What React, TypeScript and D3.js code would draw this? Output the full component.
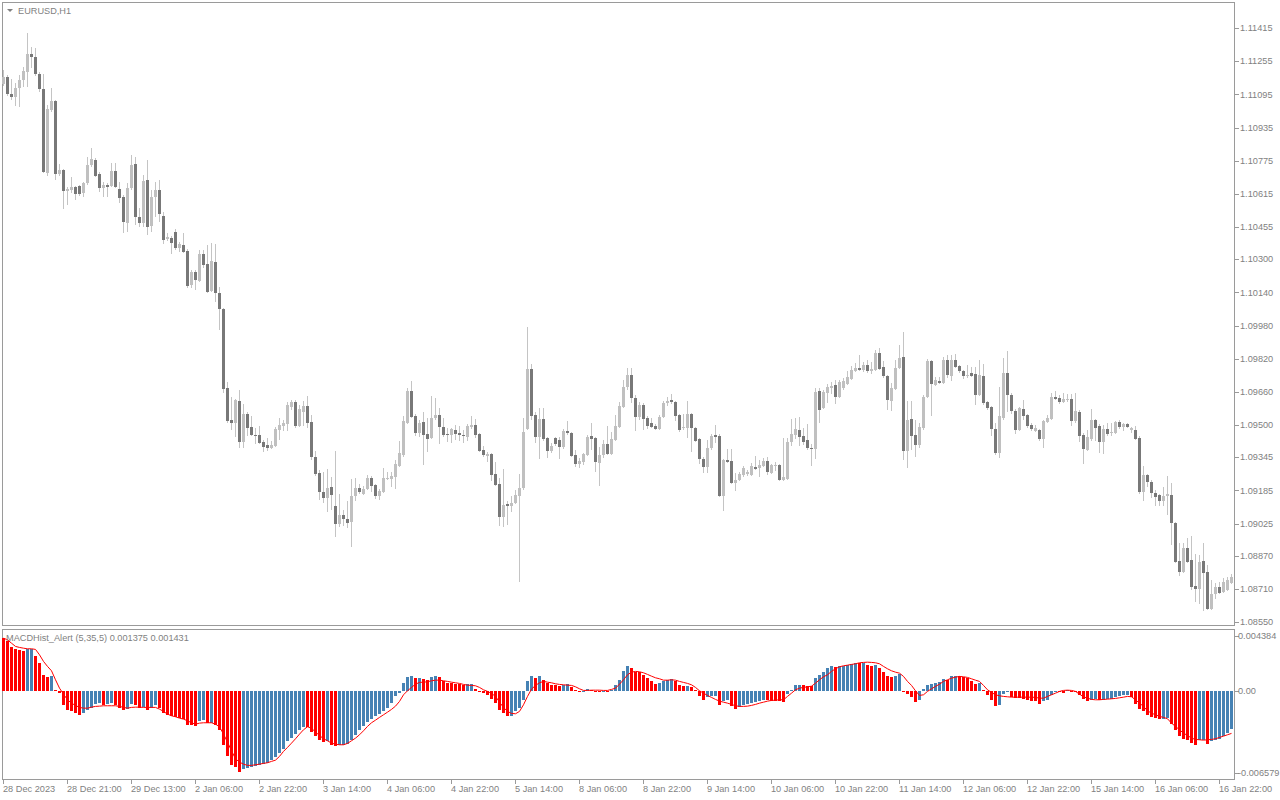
import React from 'react';
import * as d3 from 'd3';

const openPrices = [
1.11145,1.11179,1.11097,1.11082,1.11126,1.11164,1.11203,1.1129,1.11275,1.11193,
1.11121,1.10716,1.11019,1.11063,1.10711,1.1073,1.10629,1.10634,1.10648,1.10653,
1.10619,1.10667,1.10754,1.10778,1.10711,1.10643,1.10658,1.10653,1.10725,1.10638,
1.106,1.10474,1.10643,1.10759,1.10503,1.10474,1.10682,1.1046,1.106,1.10634,
1.10508,1.10397,1.10402,1.10431,1.10354,1.10368,1.10339,1.10175,1.10238,1.10195,
1.10325,1.10277,1.10146,1.10286,1.10137,1.1006,1.09679,1.09524,1.0951,1.09616,
1.09418,1.09553,1.0949,1.09452,1.09452,1.09418,1.09404,1.09389,1.09399,1.09476,
1.09495,1.09505,1.09587,1.09611,1.09495,1.09563,1.09592,1.09515,1.09346,1.09269,
1.09177,1.09148,1.09201,1.09109,1.09023,1.09065,1.09046,1.09032,1.09158,1.09196,
1.09167,1.09191,1.09245,1.09211,1.09158,1.09177,1.0924,1.0924,1.09249,1.09302,
1.09355,1.0951,1.09664,1.09544,1.09462,1.09515,1.09457,1.09437,1.09534,1.09548,
1.0949,1.09457,1.09452,1.09476,1.09462,1.09452,1.09442,1.0949,1.095,1.09457,
1.0938,1.09351,1.0936,1.09264,1.09216,1.09055,1.09119,1.09109,1.09124,1.09158,
1.09196,1.09481,1.0977,1.09548,1.09442,1.09529,1.09437,1.09375,1.09437,1.09428,
1.09394,1.09471,1.09462,1.09355,1.09312,1.09322,1.09355,1.09447,1.09437,1.09317,
1.09355,1.09408,1.0936,1.09428,1.0949,1.09587,1.09683,1.09741,1.0963,1.09539,
1.09597,1.09534,1.0951,1.09495,1.09481,1.09539,1.09606,1.09621,1.09611,1.09548,
1.09486,1.09486,1.09553,1.09486,1.09433,1.09336,1.09298,1.09389,1.09452,1.09447,
1.09158,1.09331,1.09327,1.0922,1.09235,1.09259,1.09264,1.09259,1.09298,1.09293,
1.09302,1.09327,1.09269,1.09302,1.09307,1.09235,1.0924,1.09418,1.09452,1.09476,
1.09447,1.09428,1.09389,1.09384,1.09664,1.09582,1.09654,1.09679,1.09693,1.09635,
1.09679,1.09698,1.09722,1.09761,1.09775,1.09765,1.0979,1.09761,1.09765,1.09847,
1.0978,1.09736,1.09616,1.09674,1.09775,1.09828,1.09375,1.09529,1.09452,1.09404,
1.09486,1.09635,1.09809,1.09693,1.09712,1.09703,1.09814,1.09736,1.09814,1.09785,
1.09761,1.09736,1.09751,1.09746,1.09645,1.09736,1.09611,1.09587,1.09481,1.09365,
1.09534,1.09751,1.09645,1.09568,1.09476,1.09577,1.09548,1.095,1.09471,1.09476,
1.09433,1.09515,1.09529,1.09635,1.0963,1.09611,1.09621,1.09626,1.09519,1.09563,
1.09452,1.0938,1.09433,1.09524,1.09495,1.09418,1.09481,1.09462,1.09462,1.09515,
1.0949,1.09505,1.09476,1.09476,1.09437,1.09177,1.09259,1.09225,1.09172,1.09163,
1.09134,1.09158,1.09163,1.09027,1.08844,1.08791,1.08907,1.08849,1.08724,1.08709,
1.08844,1.08791,1.08613,1.08685,1.08719,1.08695,1.08704,1.08738
];

const highPrices = [
1.11212,1.11188,1.11169,1.1115,1.11188,1.11227,1.11391,1.11323,1.11318,1.11203,
1.11193,1.11044,1.11126,1.11068,1.10759,1.10735,1.10648,1.10696,1.10653,1.10658,
1.10672,1.10793,1.10836,1.10788,1.1072,1.10672,1.10667,1.10764,1.10764,1.10672,
1.1061,1.10667,1.10802,1.10793,1.10547,1.10706,1.10778,1.10634,1.10672,1.10682,
1.10527,1.10426,1.10412,1.10445,1.10383,1.10426,1.10349,1.10248,1.10248,1.10344,
1.10344,1.10368,1.10378,1.10373,1.10166,1.10064,1.09708,1.09635,1.09626,1.09669,
1.09601,1.09563,1.09544,1.09486,1.09495,1.09428,1.09437,1.09423,1.0949,1.09534,
1.09524,1.09611,1.09621,1.09621,1.09597,1.09616,1.0964,1.09548,1.09375,1.09283,
1.09273,1.09288,1.09249,1.09375,1.09167,1.0909,1.09134,1.0924,1.09245,1.09216,
1.09206,1.09259,1.09254,1.09216,1.09191,1.09293,1.09273,1.09273,1.09331,1.09423,
1.09544,1.09679,1.09712,1.09553,1.09524,1.09563,1.09534,1.0964,1.0963,1.09582,
1.09534,1.09486,1.09486,1.095,1.09495,1.09476,1.09505,1.09544,1.09529,1.09462,
1.09399,1.0937,1.09365,1.09322,1.09245,1.09288,1.09134,1.09158,1.09187,1.09264,
1.09534,1.09973,1.09794,1.09563,1.09582,1.09582,1.09442,1.09413,1.09442,1.09442,
1.09481,1.09519,1.09466,1.0938,1.09341,1.09365,1.09452,1.0951,1.09442,1.09394,
1.09428,1.09495,1.09466,1.09548,1.09611,1.09717,1.09775,1.09775,1.09645,1.09611,
1.09606,1.09544,1.09534,1.09505,1.09548,1.09616,1.09635,1.0965,1.09616,1.09553,
1.09553,1.09616,1.09558,1.0949,1.09437,1.09346,1.09428,1.09457,1.095,1.09457,
1.09336,1.09384,1.09384,1.09269,1.09273,1.09302,1.09283,1.09317,1.09351,1.09331,
1.09341,1.09346,1.09312,1.09322,1.09312,1.09437,1.09437,1.09529,1.09534,1.09539,
1.09486,1.09505,1.09408,1.09679,1.09679,1.09669,1.09698,1.09708,1.09717,1.09717,
1.09727,1.09761,1.09785,1.09799,1.09838,1.09804,1.09814,1.09804,1.09862,1.09872,
1.09809,1.09741,1.09703,1.09814,1.09886,1.09949,1.09616,1.09616,1.09524,1.0951,
1.09645,1.09818,1.09814,1.09732,1.09732,1.09828,1.09838,1.09838,1.09843,1.0979,
1.09765,1.0979,1.0978,1.0978,1.09814,1.09794,1.09616,1.09592,1.0951,1.09683,
1.09823,1.09857,1.09654,1.09577,1.09587,1.09621,1.09553,1.0951,1.095,1.09481,
1.09524,1.09548,1.09654,1.09664,1.09645,1.09654,1.0965,1.0965,1.09654,1.09572,
1.09462,1.09476,1.09577,1.09529,1.09505,1.095,1.0951,1.0951,1.09519,1.09524,
1.0951,1.0951,1.0949,1.09495,1.09447,1.09302,1.09264,1.09235,1.09187,1.09167,
1.09201,1.09254,1.0922,1.09032,1.08931,1.08931,1.08955,1.08965,1.08878,1.08873,
1.08931,1.08825,1.08753,1.08738,1.08743,1.08762,1.08767,1.08782
];

const lowPrices = [
1.11135,1.11087,1.11068,1.11039,1.11034,1.1113,1.1113,1.11222,1.11183,1.11106,
1.10716,1.10701,1.1101,1.10682,1.10701,1.10542,1.10561,1.10619,1.10585,1.10605,
1.106,1.10658,1.10745,1.10696,1.10624,1.106,1.106,1.10648,1.10643,1.10571,
1.10426,1.10431,1.10634,1.10465,1.10455,1.10455,1.10417,1.10431,1.10503,1.10479,
1.10373,1.10388,1.10325,1.10344,1.10335,1.1033,1.10161,1.10161,1.10151,1.1019,
1.10257,1.10137,1.10142,1.10093,1.09958,1.09654,1.0951,1.09476,1.09442,1.09389,
1.09389,1.09447,1.09447,1.09408,1.09408,1.0937,1.09375,1.09384,1.09394,1.09428,
1.09471,1.09471,1.09572,1.09486,1.0949,1.09495,1.09486,1.09331,1.09254,1.09138,
1.09124,1.09081,1.0909,1.0896,1.09008,1.09013,1.09003,1.08912,1.09134,1.09167,
1.09163,1.09187,1.09177,1.09143,1.09138,1.09172,1.09235,1.09201,1.09191,1.09298,
1.09346,1.09505,1.09534,1.09447,1.09442,1.09307,1.0937,1.09433,1.09524,1.09408,
1.09442,1.09418,1.09413,1.09428,1.09423,1.09413,1.09423,1.09481,1.09437,1.0937,
1.09346,1.09322,1.0923,1.09206,1.09013,1.09008,1.09018,1.09081,1.09119,1.08743,
1.09187,1.09476,1.09524,1.09413,1.09336,1.09423,1.09341,1.09365,1.09399,1.09336,
1.09384,1.09452,1.09346,1.09298,1.09293,1.09307,1.09351,1.0938,1.09273,1.09206,
1.09341,1.09355,1.09355,1.09423,1.09486,1.09582,1.09669,1.09606,1.09471,1.09524,
1.09476,1.09481,1.09486,1.09476,1.09476,1.09534,1.09592,1.09601,1.09519,1.09466,
1.09476,1.09437,1.0937,1.09418,1.09312,1.09269,1.09269,1.0938,1.09413,1.09153,
1.09085,1.09317,1.09216,1.09182,1.0923,1.09249,1.09254,1.09254,1.09283,1.09249,
1.09298,1.09259,1.09264,1.09278,1.0923,1.0923,1.09235,1.09399,1.09433,1.09399,
1.09404,1.0938,1.09302,1.09336,1.0951,1.09577,1.09606,1.0965,1.09601,1.0963,
1.09669,1.09693,1.09717,1.09756,1.09761,1.09756,1.09751,1.09746,1.09761,1.09765,
1.09727,1.09572,1.09568,1.09669,1.0977,1.09331,1.09293,1.0938,1.09346,1.09389,
1.09476,1.0963,1.09544,1.09688,1.09698,1.09698,1.09727,1.09712,1.09775,1.09751,
1.09722,1.09727,1.09732,1.09597,1.0964,1.09597,1.09572,1.09447,1.09355,1.09341,
1.09524,1.09563,1.09553,1.09457,1.09471,1.09524,1.09486,1.09471,1.09466,1.09423,
1.09389,1.0951,1.09524,1.09621,1.09601,1.09606,1.09611,1.09495,1.0951,1.09418,
1.09312,1.09375,1.09423,1.09423,1.09365,1.0936,1.09447,1.09447,1.09457,1.09481,
1.09471,1.09486,1.09462,1.09428,1.09167,1.09134,1.09201,1.09148,1.09109,1.09109,
1.09109,1.09065,1.08921,1.08835,1.08772,1.08786,1.08835,1.08704,1.08646,1.08637,
1.08603,1.08608,1.08608,1.08661,1.08685,1.0869,1.087,1.08733
];

const closePrices = [
1.11179,1.11097,1.11082,1.11126,1.11164,1.11208,1.1129,1.11275,1.11193,1.11121,
1.1072,1.11024,1.11063,1.10711,1.1073,1.10629,1.10638,1.10648,1.10614,1.10614,
1.10667,1.10754,1.10783,1.10701,1.10643,1.10658,1.10648,1.10725,1.10648,1.10595,
1.10479,1.10643,1.10754,1.10503,1.10474,1.10677,1.10455,1.106,1.10634,1.10518,
1.10392,1.10407,1.10378,1.10354,1.10373,1.10335,1.10171,1.10238,1.102,1.10325,
1.10272,1.10142,1.10291,1.10137,1.1006,1.09674,1.09519,1.0951,1.09621,1.09418,
1.09553,1.09486,1.09452,1.09447,1.09413,1.09394,1.09389,1.09404,1.09481,1.095,
1.0951,1.09597,1.09611,1.09495,1.09577,1.09592,1.0951,1.09346,1.09264,1.09177,
1.09148,1.09196,1.09163,1.09023,1.09065,1.09046,1.09027,1.09158,1.09196,1.09177,
1.09191,1.09245,1.09206,1.09158,1.09182,1.09245,1.09245,1.09254,1.09312,1.09365,
1.09519,1.09664,1.09539,1.09462,1.0951,1.09452,1.09433,1.09534,1.09548,1.0949,
1.09452,1.09452,1.09481,1.09457,1.09452,1.09447,1.09495,1.095,1.09452,1.09375,
1.09355,1.0936,1.09259,1.09211,1.09055,1.09114,1.09109,1.09124,1.09163,1.09196,
1.09466,1.0977,1.09544,1.09442,1.09529,1.09433,1.09375,1.09399,1.09408,1.09394,
1.09471,1.09462,1.09351,1.09312,1.09327,1.0936,1.09442,1.09433,1.09322,1.09355,
1.09408,1.0936,1.09433,1.09495,1.09592,1.09683,1.09741,1.0963,1.09539,1.09597,
1.09529,1.09495,1.0949,1.09481,1.09539,1.09606,1.09616,1.09611,1.09544,1.09476,
1.0949,1.09553,1.09486,1.09423,1.09336,1.09298,1.09389,1.09447,1.09442,1.09158,
1.09331,1.09322,1.0922,1.09235,1.09264,1.09293,1.09273,1.09302,1.09288,1.09307,
1.09327,1.09273,1.09307,1.09307,1.09235,1.09249,1.09418,1.09457,1.09481,1.09442,
1.09418,1.09389,1.09384,1.09659,1.09572,1.09659,1.09683,1.09688,1.09635,1.09708,
1.09712,1.09732,1.09765,1.09775,1.09765,1.0979,1.09761,1.0977,1.09847,1.0977,
1.09736,1.09621,1.09679,1.09775,1.09823,1.09375,1.09524,1.09447,1.09404,1.0949,
1.09635,1.09809,1.09698,1.09717,1.09703,1.09814,1.09741,1.09814,1.0978,1.09761,
1.09736,1.09741,1.09736,1.09645,1.09741,1.09606,1.09582,1.09481,1.09365,1.09544,
1.09751,1.09645,1.09568,1.09476,1.09582,1.09544,1.09495,1.09481,1.09486,1.09433,
1.09519,1.09534,1.09635,1.09626,1.09611,1.09626,1.09626,1.09519,1.09568,1.09447,
1.09384,1.09442,1.09524,1.09486,1.09418,1.09481,1.09457,1.09466,1.09515,1.0949,
1.09505,1.0949,1.09486,1.09433,1.09177,1.09259,1.09225,1.09172,1.09153,1.09134,
1.09158,1.09167,1.09027,1.08839,1.08791,1.08907,1.08839,1.08719,1.08709,1.08839,
1.08786,1.08613,1.08685,1.08719,1.0869,1.08743,1.08753,1.08767
];

const histValues = [
0.0042,0.004,0.0035,0.00336,0.00328,0.00315,0.00336,0.00338,0.00275,0.0022,
0.00128,0.0011,0.00115,0.0001,-0.0002,-0.00112,-0.00152,-0.00165,-0.00179,-0.00192,
-0.00179,-0.00152,-0.00139,-0.00107,-0.00099,-0.00117,-0.00107,-0.00099,-0.00117,-0.00139,
-0.00152,-0.00144,-0.00107,-0.00117,-0.00139,-0.00133,-0.00152,-0.00139,-0.00117,-0.00139,
-0.00179,-0.00197,-0.00205,-0.00213,-0.00219,-0.00224,-0.00272,-0.00277,-0.00283,-0.0024,
-0.00232,-0.00259,-0.00256,-0.00272,-0.00312,-0.00432,-0.00525,-0.00592,-0.00613,-0.00651,
-0.00624,-0.00619,-0.00613,-0.00605,-0.00592,-0.00587,-0.00579,-0.00552,-0.00533,-0.00499,
-0.00464,-0.00405,-0.00379,-0.00347,-0.00315,-0.00288,-0.00293,-0.00331,-0.00365,-0.00392,
-0.00411,-0.00405,-0.00432,-0.00445,-0.00437,-0.00436,-0.00427,-0.00392,-0.00352,-0.00312,
-0.00285,-0.00251,-0.00224,-0.00205,-0.00187,-0.00165,-0.00139,-0.00099,-0.00045,-0.00019,
0.0006,0.00107,0.00115,0.00099,0.00104,0.00093,0.00088,0.00107,0.00115,0.0011,
0.00077,0.00064,0.00059,0.00053,0.00051,0.00048,0.00056,0.00057,0.00011,-0.00005,
-0.00019,-0.00032,-0.00064,-0.00099,-0.00152,-0.00179,-0.00203,-0.002,-0.00165,-0.00139,
-0.00072,0.0008,0.00115,0.00101,0.00115,0.00088,0.00061,0.00048,0.00043,0.00035,
0.00048,0.00053,0.00027,0.00008,-0.0001,-0.00005,0.00013,0.00008,0,-0.00005,
0,-0.00005,0.00008,0.00043,0.00088,0.00155,0.00195,0.00181,0.00149,0.00148,
0.00128,0.00101,0.00075,0.00053,0.00061,0.0008,0.00088,0.00093,0.00075,0.00048,
0.00035,0.0004,0.00027,0.00005,-0.00045,-0.00072,-0.00053,-0.00045,-0.0004,-0.00117,
-0.0008,-0.00072,-0.00125,-0.00147,-0.00133,-0.00117,-0.00107,-0.00099,-0.00091,-0.0008,
-0.00072,-0.00075,-0.0008,-0.00082,-0.00085,-0.00088,-0.00027,0.0001,0.00043,0.00048,
0.00045,0.0004,0.00037,0.00101,0.00128,0.0015,0.0018,0.00195,0.0019,0.00195,
0.002,0.0021,0.00215,0.0022,0.00219,0.0022,0.00205,0.002,0.00205,0.0018,
0.0015,0.00115,0.0011,0.00122,0.00136,0,-0.00024,-0.0005,-0.0009,-0.00077,
0.00016,0.00043,0.00056,0.00064,0.0007,0.00096,0.0009,0.00115,0.0012,0.00115,
0.0011,0.001,0.0008,0.00056,0.0006,0.00003,-0.00037,-0.00077,-0.00123,-0.0011,
-0.00024,-0.0001,-0.0005,-0.00058,-0.0006,-0.00064,-0.00077,-0.00078,-0.00085,-0.00104,
-0.00085,-0.00077,-0.00037,-0.0001,-0.00012,-0.00014,0.00008,-0.0001,-0.00012,-0.00037,
-0.00064,-0.00085,-0.0007,-0.00064,-0.00077,-0.0007,-0.00064,-0.00063,-0.0005,-0.00045,
-0.00037,-0.00036,-0.0005,-0.00104,-0.00144,-0.00165,-0.00192,-0.00211,-0.00219,-0.00224,
-0.00222,-0.00221,-0.00264,-0.00317,-0.00363,-0.00384,-0.0039,-0.00416,-0.00437,-0.00397,
-0.00396,-0.00424,-0.00405,-0.00397,-0.00384,-0.00363,-0.00336,-0.00304
];

const signalValues = [
0.00421,0.00408,0.00381,0.00355,0.00347,0.00341,0.00336,0.00336,0.00331,0.00288,
0.00235,0.00195,0.0016,0.00088,0.00021,-0.00027,-0.00072,-0.00099,-0.00117,-0.00133,
-0.00139,-0.00139,-0.00131,-0.00125,-0.00123,-0.0012,-0.0012,-0.0012,-0.0012,-0.00125,
-0.00133,-0.00139,-0.00133,-0.00131,-0.00131,-0.00133,-0.00133,-0.00133,-0.00133,-0.00147,
-0.00165,-0.00187,-0.002,-0.00208,-0.00219,-0.00227,-0.0024,-0.00256,-0.00267,-0.00259,
-0.00256,-0.00256,-0.00256,-0.00267,-0.00288,-0.00347,-0.00411,-0.0048,-0.00544,-0.00571,
-0.00587,-0.00597,-0.00597,-0.00592,-0.00587,-0.00581,-0.00576,-0.00565,-0.00555,-0.00525,
-0.00485,-0.00453,-0.00419,-0.00384,-0.00347,-0.00312,-0.00288,-0.00299,-0.00331,-0.00357,
-0.00384,-0.004,-0.00419,-0.00427,-0.00432,-0.00432,-0.00421,-0.004,-0.00379,-0.00352,
-0.0032,-0.00285,-0.00256,-0.00235,-0.00213,-0.00192,-0.00171,-0.00149,-0.00123,-0.00085,
-0.00032,0,0.00027,0.00053,0.00067,0.00069,0.00072,0.0008,0.00085,0.00085,
0.0008,0.00075,0.00069,0.00064,0.00059,0.00051,0.00045,0.00043,0.0004,0.00027,
0.00008,-0.00005,-0.00021,-0.00045,-0.00091,-0.00133,-0.00165,-0.00181,-0.00184,-0.00165,
-0.00112,-0.00045,0.00013,0.00043,0.00064,0.00075,0.00069,0.00064,0.00056,0.00051,
0.00048,0.00045,0.00043,0.00032,0.00016,0.00003,0.00003,0.00005,0.00005,0.00005,
0.00003,0.00003,0.00011,0.00021,0.00053,0.00088,0.00128,0.00149,0.00155,0.00152,
0.00144,0.00131,0.00117,0.00104,0.00096,0.00085,0.00085,0.00088,0.00085,0.00075,
0.00067,0.00059,0.00048,0.00027,0,-0.00019,-0.00037,-0.00053,-0.00069,-0.00083,
-0.00091,-0.00099,-0.00109,-0.0012,-0.00125,-0.00125,-0.00123,-0.00117,-0.00109,-0.00099,
-0.00091,-0.00083,-0.00077,-0.00075,-0.00072,-0.00072,-0.00045,-0.00019,0.00008,0.00021,
0.00027,0.00032,0.00037,0.00061,0.00088,0.00112,0.00128,0.00155,0.00176,0.00192,
0.002,0.00205,0.00211,0.00216,0.00224,0.00227,0.00229,0.00227,0.00224,0.00216,
0.00195,0.00176,0.0016,0.00149,0.00141,0.00115,0.00075,0.00043,0,-0.00037,
-0.00032,-0.00005,0.00016,0.00035,0.00053,0.00075,0.00088,0.00101,0.00109,0.00115,
0.00112,0.00107,0.00096,0.00085,0.00075,0.00043,0.00008,-0.00013,-0.00032,-0.0004,
-0.00045,-0.00048,-0.00051,-0.00051,-0.00051,-0.00051,-0.00051,-0.00051,-0.00053,-0.00059,
-0.00059,-0.00045,-0.00032,-0.00019,-0.00005,0.00003,0.00005,0.00003,-0.00005,-0.00027,
-0.00048,-0.00059,-0.00069,-0.00072,-0.00072,-0.00069,-0.00067,-0.00064,-0.00061,-0.00056,
-0.00051,-0.00045,-0.00048,-0.00072,-0.00099,-0.00125,-0.0016,-0.00179,-0.00192,-0.00205,
-0.00213,-0.00224,-0.00259,-0.00285,-0.00312,-0.00339,-0.00357,-0.00379,-0.00389,-0.00392,
-0.00395,-0.00392,-0.00389,-0.00384,-0.00373,-0.00363,-0.00352,-0.00341
];

const priceTicks = [1.11415,1.11255,1.11095,1.10935,1.10775,1.10615,1.10455,1.103,1.1014,1.0998,1.0982,1.0966,1.095,1.09345,1.09185,1.09025,1.0887,1.0871,1.0855];
const priceTickLabels = ['1.11415','1.11255','1.11095','1.10935','1.10775','1.10615','1.10455','1.10300','1.10140','1.09980','1.09820','1.09660','1.09500','1.09345','1.09185','1.09025','1.08870','1.08710','1.08550'];
const macdTicks = [0.004384, 0, -0.006579];
const macdTickLabels = ['0.004384', '0.00', '-0.006579'];
const timeLabelBars = [0,16,32,48,64,80,96,112,128,144,160,176,192,208,224,240,256,272,288,304];
const timeLabels = ['28 Dec 2023','28 Dec 21:00','29 Dec 13:00','2 Jan 06:00','2 Jan 22:00','3 Jan 14:00','4 Jan 06:00','4 Jan 22:00','5 Jan 14:00','8 Jan 06:00','8 Jan 22:00','9 Jan 14:00','10 Jan 06:00','10 Jan 22:00','11 Jan 14:00','12 Jan 06:00','12 Jan 22:00','15 Jan 14:00','16 Jan 06:00','16 Jan 22:00'];

const symbolTitle = 'EURUSD,H1';
const indicatorTitle = 'MACDHist_Alert (5,35,5)  0.001375 0.001431';

const FONT = '"Liberation Sans", Arial, sans-serif';
const TEXT_COLOR = '#7f7f7f';
const FRAME = '#9a9a9a';
const BULL = '#c0c0c0';
const BEAR = '#787878';
const WICK = '#c4c4c4';
const UP_HIST = '#4682b4';
const DOWN_HIST = '#ff0000';

export default function App() {
  const n = closePrices.length;
  const x = d3.scaleLinear().domain([0, n - 1]).range([3, 3 + 4 * (n - 1)]);
  const y = d3.scaleLinear().domain([1.0855, 1.11415]).range([622, 28]);
  const m = d3.scaleLinear().domain([-0.006579, 0.004384]).range([773, 636]);
  const zeroY = m(0);

  const signalPath = d3.line<number>()
    .x((_, i) => x(i) + 0.5)
    .y((d) => m(d))(signalValues) || '';

  return (
    <svg width={1280} height={800} style={{ position: 'absolute', left: 0, top: 0, background: '#fff' }}
      fontFamily={FONT}>
      <rect x={0} y={0} width={1280} height={800} fill="#ffffff" />
      {/* price panel frame */}
      <rect x={2.5} y={2.5} width={1232} height={623} fill="none" stroke={FRAME} strokeWidth={1} />
      {/* macd panel frame */}
      <rect x={2.5} y={629.5} width={1232} height={150} fill="none" stroke={FRAME} strokeWidth={1} />

      {/* candles */}
      <g shapeRendering="crispEdges">
        {closePrices.map((c, i) => {
          const o = openPrices[i];
          const cx = Math.round(x(i));
          const yh = y(highPrices[i]);
          const yl = y(lowPrices[i]);
          const yo = y(o);
          const yc = y(c);
          const top = Math.min(yo, yc);
          const h = Math.max(1, Math.abs(yo - yc));
          return (
            <g key={i}>
              <rect x={cx} y={yh} width={1} height={Math.max(1, yl - yh)} fill={WICK} />
              <rect x={cx - 1} y={top} width={3} height={h} fill={c > o ? BULL : BEAR} />
            </g>
          );
        })}
      </g>

      {/* histogram */}
      <g shapeRendering="crispEdges">
        {histValues.map((v, i) => {
          const prev = i > 0 ? histValues[i - 1] : Infinity;
          const col = v >= prev ? UP_HIST : DOWN_HIST;
          const yv = m(v);
          const top = Math.min(yv, zeroY);
          const h = Math.max(1, Math.abs(yv - zeroY));
          return <rect key={i} x={Math.round(x(i)) - 1} y={top} width={3} height={h} fill={col} />;
        })}
      </g>
      <path d={signalPath} fill="none" stroke="#ff0000" strokeWidth={1} />

      {/* price axis */}
      {priceTicks.map((p, i) => (
        <g key={'pt' + i}>
          <line x1={1235} x2={1239} y1={Math.round(y(p)) + 0.5} y2={Math.round(y(p)) + 0.5} stroke={FRAME} />
          <text x={1240} y={y(p)} dy="0.35em" fontSize={9.2} fill={TEXT_COLOR}>{priceTickLabels[i]}</text>
        </g>
      ))}
      {/* macd axis */}
      {macdTicks.map((p, i) => (
        <g key={'mt' + i}>
          <line x1={1235} x2={1239} y1={Math.round(m(p)) + 0.5} y2={Math.round(m(p)) + 0.5} stroke={FRAME} />
          <text x={1238} y={m(p)} dy="0.35em" fontSize={9.2} fill={TEXT_COLOR}>{macdTickLabels[i]}</text>
        </g>
      ))}
      {/* time axis */}
      {timeLabelBars.map((b, i) => (
        <g key={'tt' + i}>
          <line x1={Math.round(x(b)) + 0.5} x2={Math.round(x(b)) + 0.5} y1={780} y2={784} stroke={FRAME} />
          <text x={x(b)} y={792} fontSize={9.2} fill={TEXT_COLOR}>{timeLabels[i]}</text>
        </g>
      ))}

      {/* titles */}
      <path d="M7,9 L13,9 L10,12 Z" fill={TEXT_COLOR} />
      <text x={18} y={14} fontSize={9.2} fill={TEXT_COLOR}>{symbolTitle}</text>
      <text x={6} y={641} fontSize={9.2} fill={TEXT_COLOR}>{indicatorTitle}</text>
    </svg>
  );
}
